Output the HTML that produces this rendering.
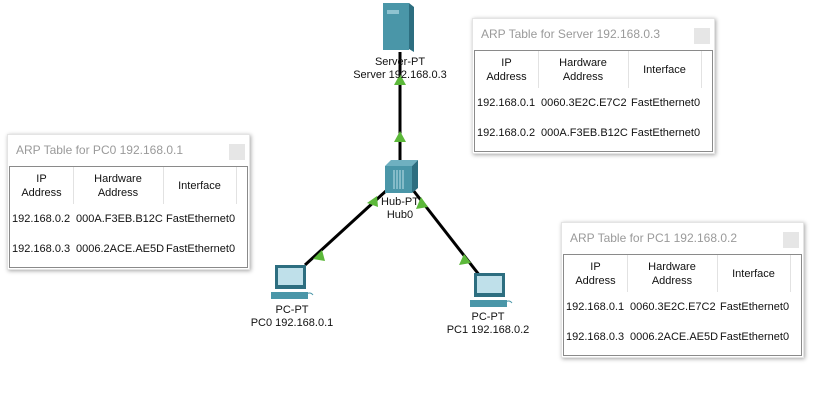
<!DOCTYPE html>
<html><head><meta charset="utf-8"><style>
body{margin:0;width:828px;height:401px;background:#fff;position:relative;overflow:hidden;font-family:"Liberation Sans",Arial,sans-serif;}
.box{position:absolute;width:243px;height:136px;background:#fff;box-shadow:1px 1px 4px rgba(0,0,0,.35);border:1px solid #e4e4e4;box-sizing:border-box}
.ttl{position:absolute;left:8px;top:8px;font-size:12px;color:#9a9a9a}
.cls{position:absolute;right:4px;top:9px;width:16px;height:16px;background:#e6e6e6}
.tb{position:absolute;left:1px;right:1px;top:31px;bottom:1px;border:1px solid #8a8a8a}
.c{position:absolute;font-size:11px;color:#111;text-align:center;line-height:14px;white-space:nowrap}
.v{position:absolute;top:0;height:37px;width:1px;background:#e2e2e2}
.lbl{position:absolute;font-size:11px;color:#111;text-align:center;line-height:13px;white-space:nowrap}
</style></head><body>
<svg width="828" height="401" style="position:absolute;left:0;top:0">
<line x1="400" y1="52" x2="400" y2="162" stroke="#000" stroke-width="3"/>
<line x1="387" y1="190" x2="305" y2="265" stroke="#000" stroke-width="3"/>
<line x1="413" y1="190" x2="480" y2="276" stroke="#000" stroke-width="3"/>
<g fill="#5cb83a">
<polygon points="400,74 394,85 406,85"/>
<polygon points="400,131 394,142 406,142"/>
<polygon points="377,196 367,203 378,207"/>
<polygon points="421,197 416,209 428,207"/>
<polygon points="322,250 313,259 325,261"/>
<polygon points="464,254 459,265 471,263"/>
</g>
<polygon points="409,3 414,7 414,52 409,49" fill="#2d6e80"/>
<rect x="383" y="3" width="26" height="47" fill="#4a96a8"/>
<rect x="387" y="10" width="12" height="4" fill="#8fc3d0"/>
<polygon points="385,166 391,160 418,160 412,166" fill="#6fb0c0"/>
<polygon points="412,166 418,160 418,188 412,193" fill="#2d6e80"/>
<rect x="385" y="166" width="27" height="27" fill="#4a96a8"/>
<g stroke="#bfe0e8" stroke-width="1"><line x1="394" y1="170" x2="394" y2="189"/><line x1="397" y1="170" x2="397" y2="189"/><line x1="400" y1="170" x2="400" y2="189"/><line x1="403" y1="170" x2="403" y2="189"/></g>
<g transform="translate(275,265)">
<rect x="0" y="0" width="31" height="24" fill="#2d6e80"/><rect x="3" y="3" width="25" height="17" fill="#bfe0ea"/>
<rect x="-4" y="27" width="37" height="7" fill="#4a96a8"/><path d="M30 30 q5 -4 8 0" stroke="#4a96a8" fill="none"/>
</g>
<g transform="translate(474,273)">
<rect x="0" y="0" width="31" height="24" fill="#2d6e80"/><rect x="3" y="3" width="25" height="17" fill="#bfe0ea"/>
<rect x="-4" y="27" width="37" height="7" fill="#4a96a8"/><path d="M30 30 q5 -4 8 0" stroke="#4a96a8" fill="none"/>
</g>
</svg>
<div class="lbl" style="left:350px;top:56px;width:100px">Server-PT<br>Server 192.168.0.3</div>
<div class="lbl" style="left:370px;top:196px;width:60px">Hub-PT<br>Hub0</div>
<div class="lbl" style="left:242px;top:304px;width:100px">PC-PT<br>PC0 192.168.0.1</div>
<div class="lbl" style="left:438px;top:311px;width:100px">PC-PT<br>PC1 192.168.0.2</div>

<div class="box" style="left:7px;top:134px">
<div class="ttl">ARP Table for PC0 192.168.0.1</div><div class="cls"></div>
<div class="tb">
<div class="v" style="left:63px"></div><div class="v" style="left:153px"></div><div class="v" style="left:226px"></div>
<div class="c" style="left:0;width:63px;top:5px">IP<br>Address</div>
<div class="c" style="left:63px;width:90px;top:5px">Hardware<br>Address</div>
<div class="c" style="left:153px;width:73px;top:12px">Interface</div>
<div class="c" style="left:2px;top:45px">192.168.0.2</div><div class="c" style="left:66px;top:45px">000A.F3EB.B12C</div><div class="c" style="left:156px;top:45px">FastEthernet0</div>
<div class="c" style="left:2px;top:75px">192.168.0.3</div><div class="c" style="left:66px;top:75px">0006.2ACE.AE5D</div><div class="c" style="left:156px;top:75px">FastEthernet0</div>
</div></div>

<div class="box" style="left:472px;top:18px">
<div class="ttl">ARP Table for Server 192.168.0.3</div><div class="cls"></div>
<div class="tb">
<div class="v" style="left:63px"></div><div class="v" style="left:153px"></div><div class="v" style="left:226px"></div>
<div class="c" style="left:0;width:63px;top:5px">IP<br>Address</div>
<div class="c" style="left:63px;width:90px;top:5px">Hardware<br>Address</div>
<div class="c" style="left:153px;width:73px;top:12px">Interface</div>
<div class="c" style="left:2px;top:45px">192.168.0.1</div><div class="c" style="left:66px;top:45px">0060.3E2C.E7C2</div><div class="c" style="left:156px;top:45px">FastEthernet0</div>
<div class="c" style="left:2px;top:75px">192.168.0.2</div><div class="c" style="left:66px;top:75px">000A.F3EB.B12C</div><div class="c" style="left:156px;top:75px">FastEthernet0</div>
</div></div>

<div class="box" style="left:561px;top:222px">
<div class="ttl">ARP Table for PC1 192.168.0.2</div><div class="cls"></div>
<div class="tb">
<div class="v" style="left:63px"></div><div class="v" style="left:153px"></div><div class="v" style="left:226px"></div>
<div class="c" style="left:0;width:63px;top:5px">IP<br>Address</div>
<div class="c" style="left:63px;width:90px;top:5px">Hardware<br>Address</div>
<div class="c" style="left:153px;width:73px;top:12px">Interface</div>
<div class="c" style="left:2px;top:45px">192.168.0.1</div><div class="c" style="left:66px;top:45px">0060.3E2C.E7C2</div><div class="c" style="left:156px;top:45px">FastEthernet0</div>
<div class="c" style="left:2px;top:75px">192.168.0.3</div><div class="c" style="left:66px;top:75px">0006.2ACE.AE5D</div><div class="c" style="left:156px;top:75px">FastEthernet0</div>
</div></div>
</body></html>
